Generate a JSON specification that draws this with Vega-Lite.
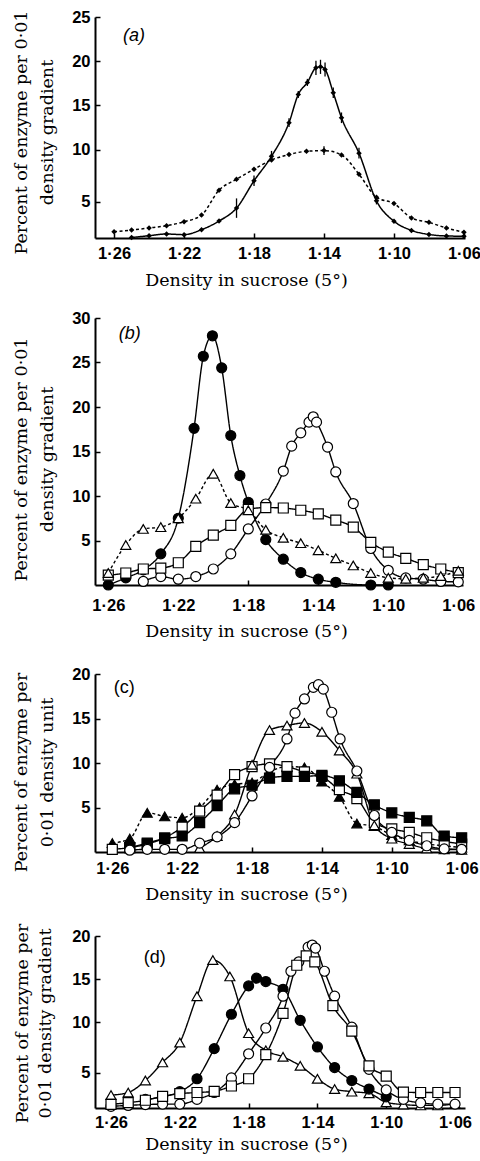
{
  "$schema": "https://vega.github.io/schema/vega-lite/v6.json",
  "background": "white",
  "padding": {"left": 12, "top": 9, "right": 2, "bottom": 2},
  "bounds": "flush",
  "spacing": 80,
  "config": {
    "view": {"stroke": null},
    "axis": {
      "domainColor": "black", "domainWidth": 2, "tickColor": "black", "tickWidth": 1.5, "grid": false,
      "labelFont": "Liberation Sans", "labelFontWeight": "bold", "labelFontSize": 16.5, "labelColor": "black",
      "titleFont": "DejaVu Serif", "titleFontWeight": "normal", "titleFontSize": 17.5, "titleColor": "black"
    },
    "axisY": {"tickSize": -5, "labelPadding": 10}
  },
  "datasets": {
    "a": [
      {"s":"a_solid","d":1.25,"v":0.05},{"s":"a_solid","d":1.24,"v":0.26},{"s":"a_solid","d":1.23,"v":0.45},{"s":"a_solid","d":1.22,"v":0.38},{"s":"a_solid","d":1.21,"v":0.94},{"s":"a_solid","d":1.20,"v":1.92},{"s":"a_solid","d":1.19,"v":3.38},{"s":"a_solid","d":1.18,"v":6.47},{"s":"a_solid","d":1.17,"v":9.25},{"s":"a_solid","d":1.16,"v":13.05},{"s":"a_solid","d":1.1547,"v":16.24},{"s":"a_solid","d":1.1495,"v":17.6},{"s":"a_solid","d":1.1446,"v":19.25},{"s":"a_solid","d":1.142,"v":19.36},{"s":"a_solid","d":1.1394,"v":19.06},{"s":"a_solid","d":1.1347,"v":16.43},{"s":"a_solid","d":1.13,"v":13.6},{"s":"a_solid","d":1.12,"v":9.6},{"s":"a_solid","d":1.11,"v":4.2},{"s":"a_solid","d":1.10,"v":1.9},{"s":"a_solid","d":1.09,"v":0.86},{"s":"a_solid","d":1.08,"v":0.4},{"s":"a_solid","d":1.07,"v":0.23},{"s":"a_solid","d":1.06,"v":0.2},
      {"s":"a_dash","d":1.26,"v":0.71},{"s":"a_dash","d":1.25,"v":0.9},{"s":"a_dash","d":1.24,"v":1.13},{"s":"a_dash","d":1.23,"v":1.39},{"s":"a_dash","d":1.22,"v":1.84},{"s":"a_dash","d":1.21,"v":2.59},{"s":"a_dash","d":1.20,"v":5.41},{"s":"a_dash","d":1.19,"v":6.65},{"s":"a_dash","d":1.18,"v":7.78},{"s":"a_dash","d":1.17,"v":8.83},{"s":"a_dash","d":1.16,"v":9.44},{"s":"a_dash","d":1.15,"v":9.81},{"s":"a_dash","d":1.14,"v":9.89},{"s":"a_dash","d":1.13,"v":9.4},{"s":"a_dash","d":1.12,"v":7.22},{"s":"a_dash","d":1.11,"v":4.6},{"s":"a_dash","d":1.10,"v":3.9},{"s":"a_dash","d":1.09,"v":2.26},{"s":"a_dash","d":1.08,"v":1.77},{"s":"a_dash","d":1.07,"v":1.13},{"s":"a_dash","d":1.06,"v":0.66}
    ],
    "aerr": [
      {"d":1.19,"lo":2.28,"hi":4.48},{"d":1.18,"lo":5.87,"hi":7.07},{"d":1.17,"lo":8.65,"hi":9.85},{"d":1.16,"lo":12.55,"hi":13.55},{"d":1.1547,"lo":15.84,"hi":16.64},{"d":1.1495,"lo":17.2,"hi":18.0},{"d":1.1446,"lo":18.45,"hi":20.05},{"d":1.142,"lo":18.56,"hi":20.16},{"d":1.1394,"lo":18.26,"hi":19.86},{"d":1.1347,"lo":15.83,"hi":17.03},{"d":1.13,"lo":13.0,"hi":14.2},{"d":1.12,"lo":9.0,"hi":10.2},{"d":1.11,"lo":3.8,"hi":4.6},{"d":1.14,"lo":9.39,"hi":10.39}
    ],
    "b": [
      {"s":"fc","d":1.26,"v":0.0},{"s":"fc","d":1.25,"v":0.8},{"s":"fc","d":1.24,"v":1.7},{"s":"fc","d":1.23,"v":3.5},{"s":"fc","d":1.22,"v":7.5},{"s":"fc","d":1.211,"v":17.6},{"s":"fc","d":1.2057,"v":25.7},{"s":"fc","d":1.2005,"v":28.0},{"s":"fc","d":1.1952,"v":24.4},{"s":"fc","d":1.19,"v":16.8},{"s":"fc","d":1.1848,"v":12.3},{"s":"fc","d":1.18,"v":9.3},{"s":"fc","d":1.17,"v":5.1},{"s":"fc","d":1.16,"v":2.9},{"s":"fc","d":1.15,"v":1.4},{"s":"fc","d":1.14,"v":0.65},{"s":"fc","d":1.13,"v":0.3},{"s":"fc","d":1.11,"v":0.0},{"s":"fc","d":1.10,"v":0.0},
      {"s":"oc","d":1.24,"v":0.4},{"s":"oc","d":1.23,"v":0.95},{"s":"oc","d":1.22,"v":0.65},{"s":"oc","d":1.21,"v":0.95},{"s":"oc","d":1.20,"v":1.8},{"s":"oc","d":1.19,"v":3.5},{"s":"oc","d":1.18,"v":6.3},{"s":"oc","d":1.17,"v":9.1},{"s":"oc","d":1.16,"v":12.8},{"s":"oc","d":1.1552,"v":15.6},{"s":"oc","d":1.15,"v":17.1},{"s":"oc","d":1.1453,"v":18.3},{"s":"oc","d":1.1429,"v":18.9},{"s":"oc","d":1.141,"v":18.3},{"s":"oc","d":1.1347,"v":15.5},{"s":"oc","d":1.13,"v":12.7},{"s":"oc","d":1.12,"v":9.15},{"s":"oc","d":1.11,"v":4.1},{"s":"oc","d":1.10,"v":1.65},{"s":"oc","d":1.09,"v":0.8},{"s":"oc","d":1.08,"v":0.65},{"s":"oc","d":1.07,"v":0.4},{"s":"oc","d":1.06,"v":0.35},
      {"s":"os","d":1.26,"v":1.1},{"s":"os","d":1.25,"v":1.35},{"s":"os","d":1.24,"v":1.8},{"s":"os","d":1.23,"v":1.9},{"s":"os","d":1.22,"v":2.5},{"s":"os","d":1.21,"v":4.35},{"s":"os","d":1.20,"v":5.6},{"s":"os","d":1.19,"v":6.7},{"s":"os","d":1.18,"v":8.5},{"s":"os","d":1.17,"v":8.7},{"s":"os","d":1.16,"v":8.65},{"s":"os","d":1.15,"v":8.4},{"s":"os","d":1.14,"v":8.0},{"s":"os","d":1.13,"v":7.3},{"s":"os","d":1.12,"v":6.5},{"s":"os","d":1.11,"v":4.8},{"s":"os","d":1.10,"v":3.7},{"s":"os","d":1.09,"v":3.0},{"s":"os","d":1.08,"v":2.3},{"s":"os","d":1.07,"v":1.8},{"s":"os","d":1.06,"v":1.4},
      {"s":"otd","d":1.26,"v":1.35},{"s":"otd","d":1.25,"v":4.5},{"s":"otd","d":1.24,"v":6.3},{"s":"otd","d":1.23,"v":6.5},{"s":"otd","d":1.22,"v":7.5},{"s":"otd","d":1.21,"v":9.7},{"s":"otd","d":1.20,"v":12.5},{"s":"otd","d":1.19,"v":9.2},{"s":"otd","d":1.18,"v":8.4},{"s":"otd","d":1.17,"v":6.2},{"s":"otd","d":1.16,"v":5.3},{"s":"otd","d":1.15,"v":4.7},{"s":"otd","d":1.14,"v":3.9},{"s":"otd","d":1.13,"v":3.0},{"s":"otd","d":1.12,"v":2.2},{"s":"otd","d":1.11,"v":1.35},{"s":"otd","d":1.10,"v":0.8},{"s":"otd","d":1.09,"v":0.7},{"s":"otd","d":1.08,"v":0.8},{"s":"otd","d":1.07,"v":1.0},{"s":"otd","d":1.06,"v":1.6}
    ],
    "c": [
      {"s":"ftd","d":1.26,"v":1.0},{"s":"ftd","d":1.25,"v":1.5},{"s":"ftd","d":1.24,"v":4.4},{"s":"ftd","d":1.23,"v":4.0},{"s":"ftd","d":1.22,"v":3.85},{"s":"ftd","d":1.21,"v":5.0},{"s":"ftd","d":1.20,"v":7.0},{"s":"ftd","d":1.19,"v":7.6},{"s":"ftd","d":1.18,"v":7.8},{"s":"ftd","d":1.17,"v":9.0},{"s":"ftd","d":1.16,"v":9.6},{"s":"ftd","d":1.15,"v":9.5},{"s":"ftd","d":1.14,"v":7.9},{"s":"ftd","d":1.13,"v":6.2},{"s":"ftd","d":1.12,"v":3.2},{"s":"ftd","d":1.11,"v":2.9},{"s":"ftd","d":1.10,"v":1.9},{"s":"ftd","d":1.09,"v":1.3},{"s":"ftd","d":1.08,"v":0.9},{"s":"ftd","d":1.07,"v":0.7},{"s":"ftd","d":1.06,"v":0.5},
      {"s":"os","d":1.26,"v":0.3},{"s":"os","d":1.25,"v":0.5},{"s":"os","d":1.24,"v":0.9},{"s":"os","d":1.23,"v":1.6},{"s":"os","d":1.22,"v":2.8},{"s":"os","d":1.21,"v":4.6},{"s":"os","d":1.20,"v":6.4},{"s":"os","d":1.19,"v":8.7},{"s":"os","d":1.18,"v":9.6},{"s":"os","d":1.17,"v":9.9},{"s":"os","d":1.16,"v":9.6},{"s":"os","d":1.15,"v":9.0},{"s":"os","d":1.14,"v":8.5},{"s":"os","d":1.13,"v":7.0},{"s":"os","d":1.12,"v":6.0},{"s":"os","d":1.11,"v":3.3},{"s":"os","d":1.10,"v":2.6},{"s":"os","d":1.09,"v":2.2},{"s":"os","d":1.08,"v":1.6},{"s":"os","d":1.07,"v":1.2},{"s":"os","d":1.06,"v":0.9},
      {"s":"fs","d":1.25,"v":0.5},{"s":"fs","d":1.24,"v":1.0},{"s":"fs","d":1.23,"v":1.5},{"s":"fs","d":1.22,"v":1.8},{"s":"fs","d":1.21,"v":3.3},{"s":"fs","d":1.20,"v":5.2},{"s":"fs","d":1.19,"v":7.1},{"s":"fs","d":1.18,"v":7.5},{"s":"fs","d":1.17,"v":8.3},{"s":"fs","d":1.16,"v":8.5},{"s":"fs","d":1.15,"v":8.5},{"s":"fs","d":1.14,"v":8.6},{"s":"fs","d":1.13,"v":8.0},{"s":"fs","d":1.12,"v":6.7},{"s":"fs","d":1.11,"v":5.3},{"s":"fs","d":1.10,"v":4.4},{"s":"fs","d":1.09,"v":3.9},{"s":"fs","d":1.08,"v":3.5},{"s":"fs","d":1.07,"v":1.8},{"s":"fs","d":1.06,"v":1.6},
      {"s":"ot","d":1.21,"v":0.45},{"s":"ot","d":1.20,"v":1.8},{"s":"ot","d":1.19,"v":4.2},{"s":"ot","d":1.18,"v":9.8},{"s":"ot","d":1.17,"v":13.7},{"s":"ot","d":1.16,"v":14.2},{"s":"ot","d":1.15,"v":14.5},{"s":"ot","d":1.14,"v":13.5},{"s":"ot","d":1.13,"v":11.4},{"s":"ot","d":1.12,"v":8.8},{"s":"ot","d":1.11,"v":3.0},{"s":"ot","d":1.10,"v":1.5},{"s":"ot","d":1.09,"v":0.9},{"s":"ot","d":1.08,"v":0.4},{"s":"ot","d":1.07,"v":0.3},{"s":"ot","d":1.06,"v":0.25},
      {"s":"oc","d":1.25,"v":0.2},{"s":"oc","d":1.24,"v":0.3},{"s":"oc","d":1.23,"v":0.3},{"s":"oc","d":1.22,"v":0.3},{"s":"oc","d":1.21,"v":1.0},{"s":"oc","d":1.20,"v":1.7},{"s":"oc","d":1.19,"v":3.3},{"s":"oc","d":1.18,"v":6.3},{"s":"oc","d":1.17,"v":9.5},{"s":"oc","d":1.16,"v":12.7},{"s":"oc","d":1.1554,"v":15.6},{"s":"oc","d":1.15,"v":17.2},{"s":"oc","d":1.1449,"v":18.5},{"s":"oc","d":1.142,"v":18.8},{"s":"oc","d":1.1392,"v":18.3},{"s":"oc","d":1.1344,"v":15.7},{"s":"oc","d":1.1296,"v":12.7},{"s":"oc","d":1.12,"v":9.1},{"s":"oc","d":1.11,"v":4.1},{"s":"oc","d":1.10,"v":2.2},{"s":"oc","d":1.09,"v":1.3},{"s":"oc","d":1.08,"v":0.7},{"s":"oc","d":1.07,"v":0.35},{"s":"oc","d":1.06,"v":0.3}
    ],
    "dd": [
      {"s":"ot","d":1.26,"v":1.5},{"s":"ot","d":1.25,"v":1.8},{"s":"ot","d":1.24,"v":3.2},{"s":"ot","d":1.23,"v":5.3},{"s":"ot","d":1.22,"v":7.6},{"s":"ot","d":1.21,"v":13.0},{"s":"ot","d":1.2008,"v":17.2},{"s":"ot","d":1.1909,"v":15.3},{"s":"ot","d":1.18,"v":8.7},{"s":"ot","d":1.17,"v":6.7},{"s":"ot","d":1.16,"v":5.95},{"s":"ot","d":1.15,"v":4.9},{"s":"ot","d":1.14,"v":3.4},{"s":"ot","d":1.13,"v":2.2},{"s":"ot","d":1.12,"v":1.9},{"s":"ot","d":1.11,"v":1.7},{"s":"ot","d":1.10,"v":0.66},{"s":"ot","d":1.09,"v":0.4},{"s":"ot","d":1.08,"v":0.3},{"s":"ot","d":1.07,"v":0.3},{"s":"ot","d":1.06,"v":0.5},
      {"s":"fc","d":1.24,"v":1.0},{"s":"fc","d":1.23,"v":1.3},{"s":"fc","d":1.22,"v":1.9},{"s":"fc","d":1.21,"v":3.4},{"s":"fc","d":1.20,"v":6.9},{"s":"fc","d":1.19,"v":10.9},{"s":"fc","d":1.18,"v":14.2},{"s":"fc","d":1.1754,"v":15.1},{"s":"fc","d":1.17,"v":14.7},{"s":"fc","d":1.16,"v":13.8},{"s":"fc","d":1.15,"v":10.2},{"s":"fc","d":1.14,"v":7.1},{"s":"fc","d":1.13,"v":4.7},{"s":"fc","d":1.12,"v":3.2},{"s":"fc","d":1.11,"v":2.2},{"s":"fc","d":1.10,"v":1.3},
      {"s":"oc","d":1.26,"v":0.2},{"s":"oc","d":1.25,"v":0.3},{"s":"oc","d":1.24,"v":0.4},{"s":"oc","d":1.23,"v":0.45},{"s":"oc","d":1.22,"v":0.45},{"s":"oc","d":1.21,"v":1.0},{"s":"oc","d":1.20,"v":1.8},{"s":"oc","d":1.19,"v":3.5},{"s":"oc","d":1.18,"v":6.3},{"s":"oc","d":1.17,"v":9.3},{"s":"oc","d":1.16,"v":13.0},{"s":"oc","d":1.1554,"v":15.9},{"s":"oc","d":1.1508,"v":17.0},{"s":"oc","d":1.1454,"v":18.7},{"s":"oc","d":1.143,"v":18.95},{"s":"oc","d":1.1411,"v":18.6},{"s":"oc","d":1.1359,"v":15.9},{"s":"oc","d":1.13,"v":13.0},{"s":"oc","d":1.12,"v":9.4},{"s":"oc","d":1.11,"v":4.5},{"s":"oc","d":1.10,"v":2.1},{"s":"oc","d":1.09,"v":1.0},{"s":"oc","d":1.08,"v":0.6},{"s":"oc","d":1.07,"v":0.45},{"s":"oc","d":1.06,"v":0.45},
      {"s":"os","d":1.26,"v":0.43},{"s":"os","d":1.25,"v":0.62},{"s":"os","d":1.24,"v":0.9},{"s":"os","d":1.23,"v":1.36},{"s":"os","d":1.22,"v":1.67},{"s":"os","d":1.21,"v":1.8},{"s":"os","d":1.20,"v":1.94},{"s":"os","d":1.19,"v":2.56},{"s":"os","d":1.18,"v":3.4},{"s":"os","d":1.17,"v":6.2},{"s":"os","d":1.16,"v":11.0},{"s":"os","d":1.152,"v":16.6},{"s":"os","d":1.1465,"v":17.7},{"s":"os","d":1.1415,"v":17.0},{"s":"os","d":1.131,"v":11.9},{"s":"os","d":1.12,"v":8.95},{"s":"os","d":1.11,"v":4.9},{"s":"os","d":1.10,"v":3.7},{"s":"os","d":1.09,"v":1.85},{"s":"os","d":1.08,"v":1.8},{"s":"os","d":1.07,"v":1.8},{"s":"os","d":1.06,"v":1.8}
    ],
    "labA": [{"d":1.2486,"v":22.8,"t":"(a)"}],
    "labB": [{"d":1.2478,"v":28.2,"t":"(b)"}],
    "labC": [{"d":1.2531,"v":18.4,"t":"(c)"}],
    "labD": [{"d":1.2346,"v":17.4,"t":"(d)"}]
  },
  "vconcat": [
    {
      "width": 370, "height": 221,
      "encoding": {
        "x": {"field": "d", "type": "quantitative",
          "scale": {"domain": [1.0594, 1.2709], "reverse": true, "nice": false, "zero": false},
          "axis": {"values": [1.26, 1.22, 1.18, 1.14, 1.10, 1.06], "labelExpr": "replace(format(datum.value, '.2f'), '.', '·')",
            "tickSize": -5, "labelBaseline": "alphabetic", "labelPadding": 25, "labelFlush": false,
            "title": "Density in sucrose (5°)", "titleX": 151, "titleY": 47, "titleBaseline": "alphabetic", "titleAlign": "center"}},
        "y": {"field": "v", "type": "quantitative",
          "scale": {"domain": [0, 25], "nice": false, "zero": false},
          "axis": {"values": [4.1, 10, 15, 20, 25], "labelExpr": "datum.value < 5 ? '5' : datum.label",
            "title": ["Percent of enzyme per 0·01", "density gradient"],
            "titleLineHeight": 26, "titlePadding": 15, "titleY": 115}}
      },
      "layer": [
        {"data": {"name": "a"}, "mark": {"type": "line", "interpolate": "monotone", "strokeWidth": 1.5, "color": "black"},
          "encoding": {"detail": {"field": "s"},
            "strokeDash": {"field": "s", "type": "nominal", "legend": null,
              "scale": {"domain": ["a_solid","a_dash","fc","oc","os","fs","ot","otd","ftd"], "range": [[1,0],[3,2.5],[1,0],[1,0],[1,0],[1,0],[1,0],[3,2.5],[3,2.5]]}},
            "order": {"field": "d", "sort": "descending"}}},
        {"data": {"name": "aerr"}, "mark": {"type": "rule", "strokeWidth": 1.3, "color": "black"},
          "encoding": {"y": {"field": "lo", "type": "quantitative"}, "y2": {"field": "hi"}}},
        {"data": {"name": "a"}, "mark": {"type": "point", "filled": true, "shape": "diamond", "size": 30, "color": "black", "opacity": 1}},
        {"data": {"name": "labA"}, "mark": {"type": "text", "font": "Liberation Sans", "fontStyle": "italic", "fontSize": 18, "color": "black"},
          "encoding": {"text": {"field": "t"}}}
      ]
    },
    {
      "bounds": "flush",
      "spacing": 89,
      "vconcat": [
        {
          "width": 368, "height": 267,
          "encoding": {
            "x": {"field": "d", "type": "quantitative",
              "scale": {"domain": [1.0573, 1.2676], "reverse": true, "nice": false, "zero": false},
              "axis": {"values": [1.26, 1.22, 1.18, 1.14, 1.10, 1.06], "labelExpr": "replace(format(datum.value, '.2f'), '.', '·')",
                "tickSize": -5, "labelBaseline": "alphabetic", "labelPadding": 30, "labelFlush": false,
                "title": "Density in sucrose (5°)", "titleX": 151, "titleY": 51, "titleBaseline": "alphabetic", "titleAlign": "center"}},
            "y": {"field": "v", "type": "quantitative",
              "scale": {"domain": [0, 30], "nice": false, "zero": false},
              "axis": {"values": [5, 10, 15, 20, 25, 30],
                "title": ["Percent of enzyme per 0·01", "density gradient"],
                "titleLineHeight": 26, "titlePadding": 15, "titleY": 141}}
          },
          "layer": [
            {"data": {"name": "b"}, "mark": {"type": "line", "interpolate": "monotone", "strokeWidth": 1.4, "color": "black"},
              "encoding": {"detail": {"field": "s"},
                "strokeDash": {"field": "s", "type": "nominal", "legend": null,
                  "scale": {"domain": ["a_solid","a_dash","fc","oc","os","fs","ot","otd","ftd"], "range": [[1,0],[3,2.5],[1,0],[1,0],[1,0],[1,0],[1,0],[3,2.5],[3,2.5]]}},
                "order": {"field": "d", "sort": "descending"}}},
            {"data": {"name": "b"}, "mark": {"type": "point", "filled": true, "stroke": "black", "strokeWidth": 1.2, "opacity": 1},
              "encoding": {
                "shape": {"field": "s", "type": "nominal", "legend": null, "scale": {"domain": ["fc","oc","os","fs","ot","otd","ftd"], "range": ["circle","circle","square","square","triangle-up","triangle-up","triangle-up"]}},
                "fill": {"field": "s", "type": "nominal", "legend": null, "scale": {"domain": ["fc","oc","os","fs","ot","otd","ftd"], "range": ["black","white","white","black","white","white","black"]}},
                "size": {"field": "s", "type": "nominal", "legend": null, "scale": {"domain": ["fc","oc","os","fs","ot","otd","ftd"], "range": [100,100,70,70,85,85,85]}}}},
            {"data": {"name": "labB"}, "mark": {"type": "text", "font": "Liberation Sans", "fontStyle": "italic", "fontSize": 18, "color": "black"},
              "encoding": {"text": {"field": "t"}}}
          ]
        },
        {
          "bounds": "flush",
          "spacing": 84,
          "vconcat": [
            {
              "width": 370, "height": 178,
              "encoding": {
                "x": {"field": "d", "type": "quantitative",
                  "scale": {"domain": [1.0581, 1.2699], "reverse": true, "nice": false, "zero": false},
                  "axis": {"values": [1.26, 1.22, 1.18, 1.14, 1.10, 1.06], "labelExpr": "replace(format(datum.value, '.2f'), '.', '·')",
                    "tickSize": -5, "labelBaseline": "alphabetic", "labelPadding": 26, "labelFlush": false,
                    "title": "Density in sucrose (5°)", "titleX": 151, "titleY": 47, "titleBaseline": "alphabetic", "titleAlign": "center"}},
                "y": {"field": "v", "type": "quantitative",
                  "scale": {"domain": [0, 20], "nice": false, "zero": false},
                  "axis": {"values": [5, 10, 15, 20],
                    "title": ["Percent of enzyme per", "0·01 density unit"],
                    "titleLineHeight": 26, "titlePadding": 15, "titleY": 98}}
              },
              "layer": [
                {"data": {"name": "c"}, "mark": {"type": "line", "interpolate": "monotone", "strokeWidth": 1.4, "color": "black"},
                  "encoding": {"detail": {"field": "s"},
                    "strokeDash": {"field": "s", "type": "nominal", "legend": null,
                      "scale": {"domain": ["a_solid","a_dash","fc","oc","os","fs","ot","otd","ftd"], "range": [[1,0],[3,2.5],[1,0],[1,0],[1,0],[1,0],[1,0],[3,2.5],[3,2.5]]}},
                    "order": {"field": "d", "sort": "descending"}}},
                {"data": {"name": "c"}, "mark": {"type": "point", "filled": true, "stroke": "black", "strokeWidth": 1.2, "opacity": 1},
                  "encoding": {
                    "shape": {"field": "s", "type": "nominal", "legend": null, "scale": {"domain": ["fc","oc","os","fs","ot","otd","ftd"], "range": ["circle","circle","square","square","triangle-up","triangle-up","triangle-up"]}},
                    "fill": {"field": "s", "type": "nominal", "legend": null, "scale": {"domain": ["fc","oc","os","fs","ot","otd","ftd"], "range": ["black","white","white","black","white","white","black"]}},
                    "size": {"field": "s", "type": "nominal", "legend": null, "scale": {"domain": ["fc","oc","os","fs","ot","otd","ftd"], "range": [100,100,70,70,85,85,85]}}}},
                {"data": {"name": "labC"}, "mark": {"type": "text", "font": "Liberation Sans", "fontSize": 18, "color": "black"},
                  "encoding": {"text": {"field": "t"}}}
              ]
            },
            {
              "width": 370, "height": 172,
              "encoding": {
                "x": {"field": "d", "type": "quantitative",
                  "scale": {"domain": [1.0542, 1.2693], "reverse": true, "nice": false, "zero": false},
                  "axis": {"values": [1.26, 1.22, 1.18, 1.14, 1.10, 1.06], "labelExpr": "replace(format(datum.value, '.2f'), '.', '·')",
                    "tickSize": -5, "labelBaseline": "alphabetic", "labelPadding": 24, "labelFlush": false,
                    "title": "Density in sucrose (5°)", "titleX": 151, "titleY": 41, "titleBaseline": "alphabetic", "titleAlign": "center"}},
                "y": {"field": "v", "type": "quantitative",
                  "scale": {"domain": [0, 20], "nice": false, "zero": false},
                  "axis": {"values": [4.1, 10, 15, 20], "labelExpr": "datum.value < 5 ? '5' : datum.label",
                    "title": ["Percent of enzyme per", "0·01 density gradient"],
                    "titleLineHeight": 23, "titlePadding": 17, "titleY": 87}}
              },
              "layer": [
                {"data": {"name": "dd"}, "mark": {"type": "line", "interpolate": "monotone", "strokeWidth": 1.4, "color": "black"},
                  "encoding": {"detail": {"field": "s"},
                    "strokeDash": {"field": "s", "type": "nominal", "legend": null,
                      "scale": {"domain": ["a_solid","a_dash","fc","oc","os","fs","ot","otd","ftd"], "range": [[1,0],[3,2.5],[1,0],[1,0],[1,0],[1,0],[1,0],[3,2.5],[3,2.5]]}},
                    "order": {"field": "d", "sort": "descending"}}},
                {"data": {"name": "dd"}, "mark": {"type": "point", "filled": true, "stroke": "black", "strokeWidth": 1.2, "opacity": 1},
                  "encoding": {
                    "shape": {"field": "s", "type": "nominal", "legend": null, "scale": {"domain": ["fc","oc","os","fs","ot","otd","ftd"], "range": ["circle","circle","square","square","triangle-up","triangle-up","triangle-up"]}},
                    "fill": {"field": "s", "type": "nominal", "legend": null, "scale": {"domain": ["fc","oc","os","fs","ot","otd","ftd"], "range": ["black","white","white","black","white","white","black"]}},
                    "size": {"field": "s", "type": "nominal", "legend": null, "scale": {"domain": ["fc","oc","os","fs","ot","otd","ftd"], "range": [100,100,70,70,85,85,85]}}}},
                {"data": {"name": "labD"}, "mark": {"type": "text", "font": "Liberation Sans", "fontSize": 18, "color": "black"},
                  "encoding": {"text": {"field": "t"}}}
              ]
            }
          ]
        }
      ]
    }
  ]
}
